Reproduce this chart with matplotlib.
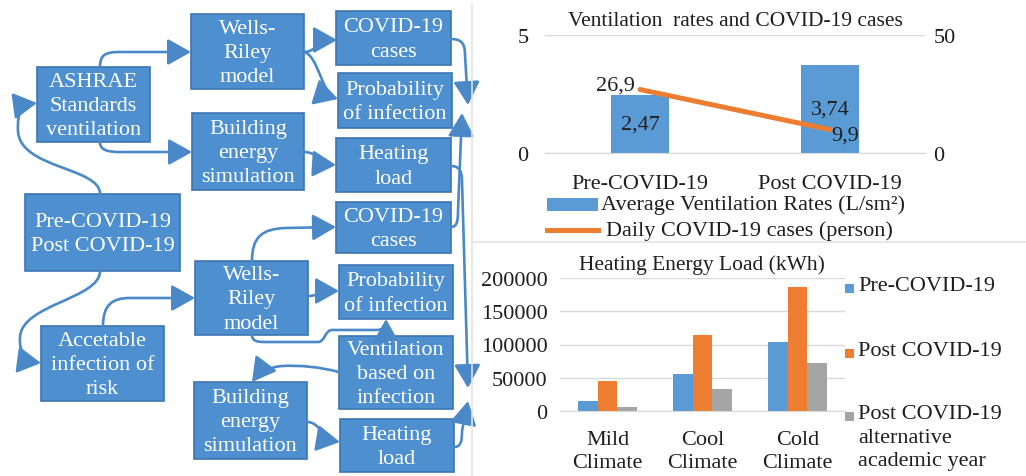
import matplotlib

matplotlib.use("Agg")

import matplotlib.pyplot as plt
import numpy as np
from matplotlib.patches import FancyArrowPatch, Rectangle
from matplotlib.path import Path

W, H = 1026, 477

# ventilation vs. daily cases
periods = ["Pre-COVID-19", "Post COVID-19"]
vent_rates = [2.47, 3.74]
daily_cases = [26.9, 9.9]

# heating energy load per climate
climates = ["Mild\nClimate", "Cool\nClimate", "Cold\nClimate"]
heat_pre = [15000, 56000, 103500]
heat_post = [45000, 115000, 186000]
heat_alt = [6500, 33500, 72500]
heat_names = ["Pre-COVID-19", "Post COVID-19", "Post COVID-19\nalternative\nacademic year"]

BLUE = "#5B9BD5"
ORANGE = "#ED7D31"
GRAY = "#A5A5A5"
BOX = "#4E8FD0"
BOX_EDGE = "#3D75B0"
LINK = "#4A88C8"
INK = "#1F1F1F"
GRID = "#D9D9D9"
FS = 16

plt.rcParams["font.family"] = ["Liberation Serif", "DejaVu Serif"]


def comma(v, nd):
    return f"{v:.{nd}f}".replace(".", ",")


def px_axes(fig, left, top, right, bottom):
    return fig.add_axes([left / W, 1 - bottom / H, (right - left) / W, (bottom - top) / H])


fig = plt.figure(figsize=(W / 100, H / 100), dpi=100)
flow = fig.add_axes([0, 0, 1, 1])
flow.set_xlim(0, W)
flow.set_ylim(H, 0)
flow.set_axis_off()

# ---- flowchart boxes (x0, y0, x1, y1, label) in pixels
boxes = [
    (37, 68, 150, 143, "ASHRAE\nStandards\nventilation"),
    (191, 15, 304, 90, "Wells-\nRiley\nmodel"),
    (192, 114, 304, 191, "Building\nenergy\nsimulation"),
    (336, 12, 451, 66, "COVID-19\ncases"),
    (338, 74, 452, 129, "Probability\nof infection"),
    (336, 139, 451, 193, "Heating\nload"),
    (25, 195, 180, 272, "Pre-COVID-19\nPost COVID-19"),
    (336, 203, 451, 254, "COVID-19\ncases"),
    (195, 262, 308, 336, "Wells-\nRiley\nmodel"),
    (339, 266, 453, 320, "Probability\nof infection"),
    (41, 327, 164, 402, "Accetable\ninfection of\nrisk"),
    (339, 337, 453, 410, "Ventilation\nbased on\ninfection"),
    (194, 383, 307, 460, "Building\nenergy\nsimulation"),
    (340, 420, 454, 473, "Heating\nload"),
]
for x0, y0, x1, y1, label in boxes:
    flow.add_patch(Rectangle((x0, y0), x1 - x0, y1 - y0, facecolor=BOX, edgecolor=BOX_EDGE, lw=1.2))
    flow.text((x0 + x1) / 2, (y0 + y1) / 2 + 1, label, ha="center", va="center",
              color="white", fontsize=FS, linespacing=1.38)


def link(*steps):
    verts, codes = [], []
    for step in steps:
        kind, pts = step[0], step[1:]
        if kind == "M":
            verts.append(pts[0]); codes.append(Path.MOVETO)
        elif kind == "L":
            verts.append(pts[0]); codes.append(Path.LINETO)
        else:
            verts.extend(pts); codes.extend([Path.CURVE4] * 3)
    flow.add_patch(FancyArrowPatch(path=Path(verts, codes),
                                   arrowstyle="-|>,head_length=0.8,head_width=0.45",
                                   mutation_scale=18, color=LINK, lw=1.9))


link(("M", (100, 68)), ("C", (100, 56), (105, 53), (120, 53)), ("L", (191, 53)))
link(("M", (100, 143)), ("C", (100, 150), (105, 153), (120, 153)), ("L", (192, 153)))
link(("M", (304, 53)), ("C", (316, 53), (318, 41), (337, 41)))
link(("M", (304, 53)), ("C", (318, 56), (322, 95), (338, 100)))
link(("M", (304, 153)), ("C", (318, 153), (320, 165), (336, 166)))
link(("M", (100, 195)), ("C", (100, 168), (20, 170), (18, 132)), ("C", (17, 113), (22, 106), (37, 104)))
link(("M", (100, 272)), ("C", (100, 300), (22, 305), (20, 338)), ("C", (19, 355), (26, 362), (41, 364)))
link(("M", (103, 327)), ("C", (103, 306), (112, 299), (130, 299)), ("L", (195, 299)))
link(("M", (252, 262)), ("C", (252, 238), (262, 230), (285, 229)), ("L", (336, 228)))
link(("M", (308, 297)), ("C", (318, 297), (322, 292), (339, 292)))
link(("M", (252, 336)), ("C", (252, 342), (257, 343), (265, 343)), ("L", (318, 343)),
     ("C", (325, 343), (325, 331), (332, 331)), ("L", (376, 331)),
     ("C", (383, 331), (386, 328), (386, 320)))
link(("M", (339, 373)), ("C", (320, 368), (300, 366), (282, 367)), ("C", (268, 368), (258, 375), (252, 383)))
link(("M", (307, 423)), ("C", (320, 423), (322, 440), (340, 443)))
link(("M", (451, 40)), ("C", (462, 40), (465, 45), (465, 56)), ("L", (468, 106)))
link(("M", (451, 228)), ("C", (457, 228), (458, 222), (458, 212)), ("L", (462, 114)))
link(("M", (451, 167)), ("C", (459, 167), (462, 172), (462, 182)), ("L", (468, 389)))
link(("M", (454, 448)), ("C", (461, 448), (462, 442), (462, 432)), ("L", (468, 402)))

# panel separators
flow.plot([472, 472], [5, H], color="#E3E3E3", lw=1.2)
flow.plot([472, W], [243, 243], color="#E3E3E3", lw=1.2)

# ---- ventilation rates and COVID-19 cases
ax1 = px_axes(fig, 545, 36, 925, 154)
x = np.arange(len(periods))
ax1.bar(x, vent_rates, width=0.305, color=BLUE, zorder=2)
ax1.set_xlim(-0.5, len(periods) - 0.5)
ax1.set_ylim(0, 5)
ax1.set_yticks([0, 5])
ax1.set_xticks(x, periods)
ax1.yaxis.grid(True, color=GRID, lw=1)
ax1.set_axisbelow(True)
ax1.tick_params(axis="y", length=0, pad=12, labelsize=FS, labelcolor=INK)
ax1.tick_params(axis="x", length=0, pad=15, labelsize=FS, labelcolor=INK)
for side in ("top", "left", "right"):
    ax1.spines[side].set_visible(False)
ax1.spines["bottom"].set_color(GRID)
for xi, v in zip(x, vent_rates):
    ax1.text(xi, v / 2, comma(v, 2), ha="center", va="center", fontsize=FS, color=INK, zorder=3)

ax1b = ax1.twinx()
ax1b.plot(x, daily_cases, color=ORANGE, lw=3.6, solid_capstyle="round", zorder=3)
ax1b.set_ylim(0, 50)
ax1b.set_yticks([0, 50])
ax1b.tick_params(axis="y", length=0, pad=6, labelsize=FS, labelcolor=INK)
for side in ax1b.spines:
    ax1b.spines[side].set_visible(False)
ax1b.annotate(comma(daily_cases[0], 1), (x[0], daily_cases[0]), xytext=(-4, 3),
              textcoords="offset points", ha="right", va="center", fontsize=FS, color=INK)
ax1b.annotate(comma(daily_cases[1], 1), (x[1], daily_cases[1]), xytext=(1, -4),
              textcoords="offset points", ha="left", va="center", fontsize=FS, color=INK)

flow.text(735, 22, "Ventilation  rates and COVID-19 cases", ha="center", va="center",
          fontsize=15.5, color=INK)
flow.add_patch(Rectangle((547, 199), 51, 13, facecolor=BLUE, edgecolor="none"))
flow.text(601, 205, "Average Ventilation Rates (L/sm²)", ha="left", va="center", fontsize=FS, color=INK)
flow.plot([547, 598], [231, 231], color=ORANGE, lw=3.6)
flow.text(606, 231, "Daily COVID-19 cases (person)", ha="left", va="center", fontsize=FS, color=INK)

# ---- heating energy load
ax2 = px_axes(fig, 560, 279, 845, 412)
xc = np.arange(len(climates))
bw = 0.21
for k, (vals, col) in enumerate(zip([heat_pre, heat_post, heat_alt], [BLUE, ORANGE, GRAY])):
    ax2.bar(xc + (k - 1) * bw, vals, width=bw, color=col, zorder=2)
ax2.set_xlim(-0.5, len(climates) - 0.5)
ax2.set_ylim(0, 200000)
ax2.set_yticks(np.arange(0, 200001, 50000))
ax2.set_xticks(xc, climates)
ax2.yaxis.grid(True, color=GRID, lw=1)
ax2.set_axisbelow(True)
ax2.tick_params(axis="y", length=0, pad=9, labelsize=FS, labelcolor=INK)
ax2.tick_params(axis="x", length=0, pad=14, labelsize=FS, labelcolor=INK)
for lab in ax2.get_xticklabels():
    lab.set_linespacing(1.27)
for side in ("top", "left", "right"):
    ax2.spines[side].set_visible(False)
ax2.spines["bottom"].set_color(GRID)

flow.text(702, 265, "Heating Energy Load (kWh)", ha="center", va="center", fontsize=15.5, color=INK)
for name, col, yc in zip(heat_names, [BLUE, ORANGE, GRAY], [289, 354, 417]):
    flow.add_patch(Rectangle((845, yc - 4.5), 9, 9, facecolor=col, edgecolor="none"))
    flow.text(858, yc - 12, name, ha="left", va="top", fontsize=FS, color=INK, linespacing=1.33)

fig.savefig("out.png", dpi=100)
